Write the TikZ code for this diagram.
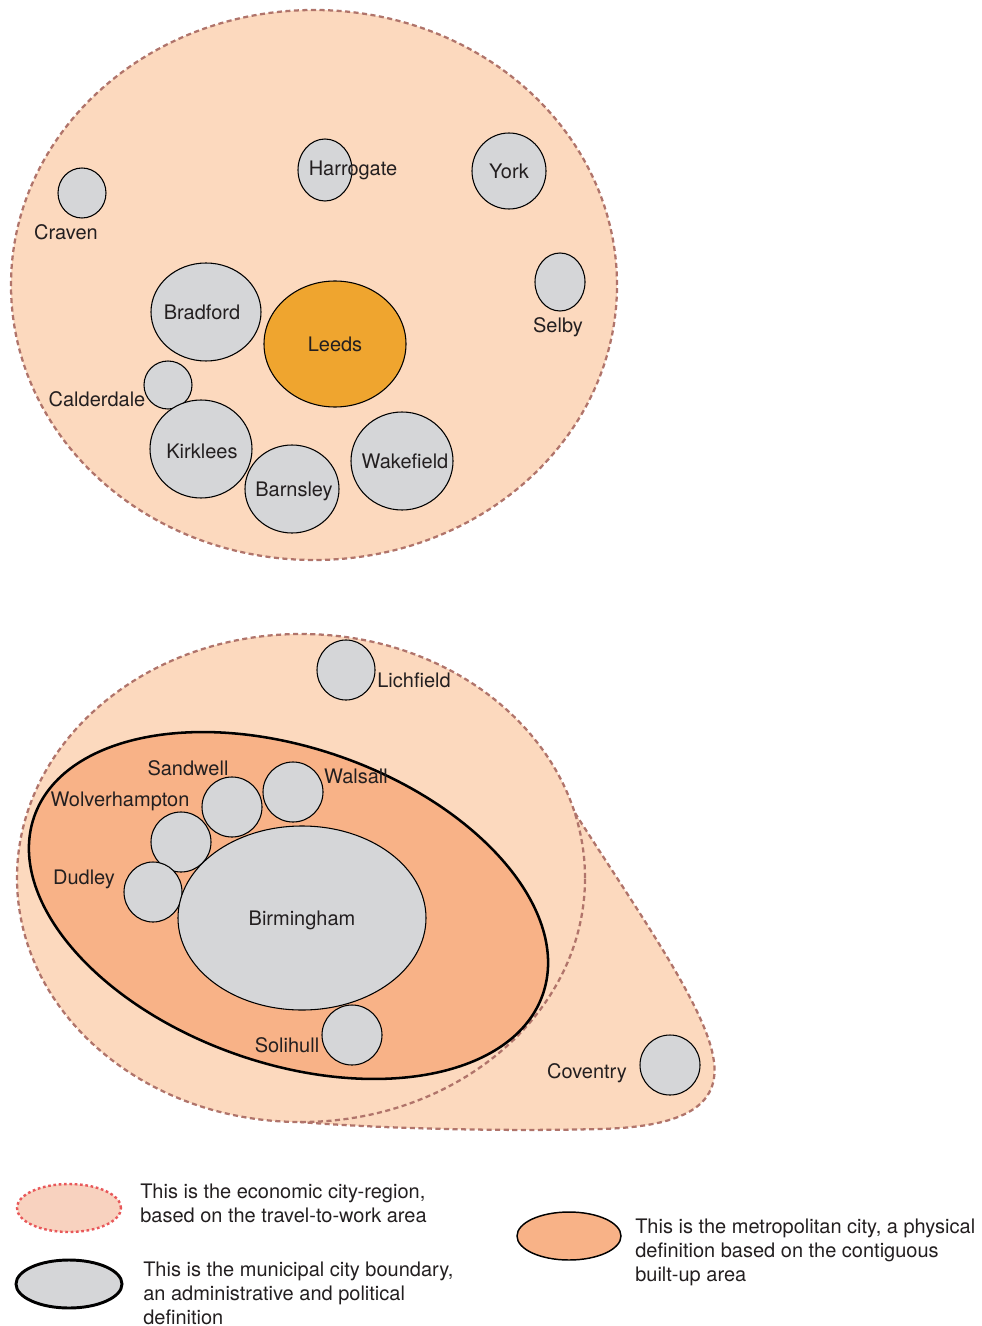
\documentclass[tikz,border=0pt]{standalone}
\usepackage{fontspec}
\setmainfont{TeX Gyre Heros}
\usetikzlibrary{shapes.geometric}
\definecolor{regionfill}{HTML}{FCD9BE}
\definecolor{regionline}{HTML}{B0746B}
\definecolor{citygray}{HTML}{D5D6D8}
\definecolor{leedsorange}{HTML}{EFA52F}
\definecolor{metrofill}{HTML}{F8B287}
\definecolor{keyfill}{HTML}{F8D2BF}
\definecolor{keyline}{HTML}{E8585A}
\definecolor{textgray}{HTML}{231F20}
\tikzset{
  rad/.style 2 args={minimum width=#1*1.5pt, minimum height=#2*1.5pt},
  region/.style={ellipse, inner sep=0pt, fill=regionfill, draw=regionline,
    line width=1.7pt, dash pattern=on 3.8pt off 2.6pt},
  regionedge/.style={draw=regionline, line width=1.7pt, dash pattern=on 3.8pt off 2.6pt},
  city/.style={ellipse, inner sep=0pt, fill=citygray, draw=black, line width=0.8pt},
  townname/.style={text=textgray, inner sep=0pt, text height=0.72em, text depth=0pt,
    yshift=-2pt, font=\fontsize{15}{18}\selectfont},
  keytext/.style={text=textgray, inner sep=0pt, align=left, anchor=west,
    font=\fontsize{15}{18}\selectfont},
}

\begin{document}
\begin{tikzpicture}[x=0.75pt,y=-0.75pt]
\useasboundingbox (0,0) rectangle (981,1326);

% Leeds city-region
\node[region, rad={303}{275}] (leedsregion) at (314,285) {};
\node[city, rad={24}{25}] (craven) at (82,193) {};
\node[city, rad={27}{31}] (harrogate) at (325,170) {};
\node[city, rad={37}{38}] (york) at (509,171) {};
\node[city, rad={25}{29}] (selby) at (560,282) {};
\node[city, rad={55}{49}] (bradford) at (206,312) {};
\node[city, fill=leedsorange, rad={71}{63}] (leeds) at (335,344) {};
\node[city, rad={24}{24}] (calderdale) at (168,385) {};
\node[city, rad={51}{49}] (kirklees) at (201,449) {};
\node[city, rad={47}{44}] (barnsley) at (292,489) {};
\node[city, rad={51}{49}] (wakefield) at (402,461) {};

\node[townname] (cravenname) at (66,232) {Craven};
\node[townname] (harrogatename) at (353,168) {Harrogate};
\node[townname] (yorkname) at (509,171) {York};
\node[townname] (selbyname) at (558,325) {Selby};
\node[townname] (bradfordname) at (202,312) {Bradford};
\node[townname] (leedsname) at (335,344) {Leeds};
\node[townname] (calderdalename) at (97,399) {Calderdale};
\node[townname] (kirkleesname) at (202,451) {Kirklees};
\node[townname] (barnsleyname) at (294,489) {Barnsley};
\node[townname] (wakefieldname) at (405,461) {Wakefield};

% Birmingham city-region, with the arm out to Coventry
\coordinate (armtop) at (575,813);
\coordinate (armright) at (714,1062);
\coordinate (armfoot) at (600,1129);
\coordinate (armend) at (300,1122);
\fill[regionfill] (armtop) .. controls (640,915) and (708,1010) .. (armright)
  .. controls (720,1110) and (675,1127) .. (armfoot)
  .. controls (480,1132) and (360,1127) .. (armend) -- cycle;
\node[region, rad={284}{244}] (bhamregion) at (301,878) {};
\draw[regionedge] (armtop) .. controls (640,915) and (708,1010) .. (armright)
  .. controls (720,1110) and (675,1127) .. (armfoot)
  .. controls (480,1132) and (360,1127) .. (armend);

\node[ellipse, inner sep=0pt, fill=metrofill, draw=black, line width=1.9pt,
  rad={269.4}{157.7}, rotate=-19.3] (metro) at (288.5,905.5) {};

\node[city, rad={29}{30}] (lichfield) at (346,670) {};
\node[city, rad={30}{30}] (walsall) at (293,792) {};
\node[city, rad={30}{30}] (sandwell) at (232,807) {};
\node[city, rad={30}{30}] (wolverhampton) at (181,842) {};
\node[city, rad={29}{30}] (dudley) at (153,892) {};
\node[city, rad={124}{92}] (birmingham) at (302,918) {};
\node[city, rad={30}{30}] (solihull) at (352,1035) {};
\node[city, rad={30}{30}] (coventry) at (670,1065) {};

\node[townname] (lichfieldname) at (414,680) {Lichfield};
\node[townname] (walsallname) at (356,776) {Walsall};
\node[townname] (sandwellname) at (188,768) {Sandwell};
\node[townname] (wolverhamptonname) at (120,799) {Wolverhampton};
\node[townname] (dudleyname) at (84,877) {Dudley};
\node[townname] (birminghamname) at (302,918) {Birmingham};
\node[townname] (solihullname) at (287,1045) {Solihull};
\node[townname] (coventryname) at (587,1071) {Coventry};

% key
\node[ellipse, inner sep=0pt, fill=keyfill, draw=keyline, line width=1.8pt,
  dash pattern=on 2pt off 2pt, rad={52}{24}] (keyregion) at (69,1208) {};
\node[ellipse, inner sep=0pt, fill=citygray, draw=black, line width=2.2pt,
  rad={53}{24}] (keycity) at (69,1284) {};
\node[ellipse, inner sep=0pt, fill=metrofill, draw=black, line width=1.1pt,
  rad={52}{24}] (keymetro) at (569,1236) {};

\node[keytext] (keyregiontext) at (140,1203) {This is the economic city-region,\\based on the travel-to-work area};
\node[keytext] (keycitytext) at (143,1293) {This is the municipal city boundary,\\an administrative and political\\definition};
\node[keytext] (keymetrotext) at (635,1252) {This is the metropolitan city, a physical\\definition based on the contiguous\\built-up area};
\end{tikzpicture}
\end{document}
